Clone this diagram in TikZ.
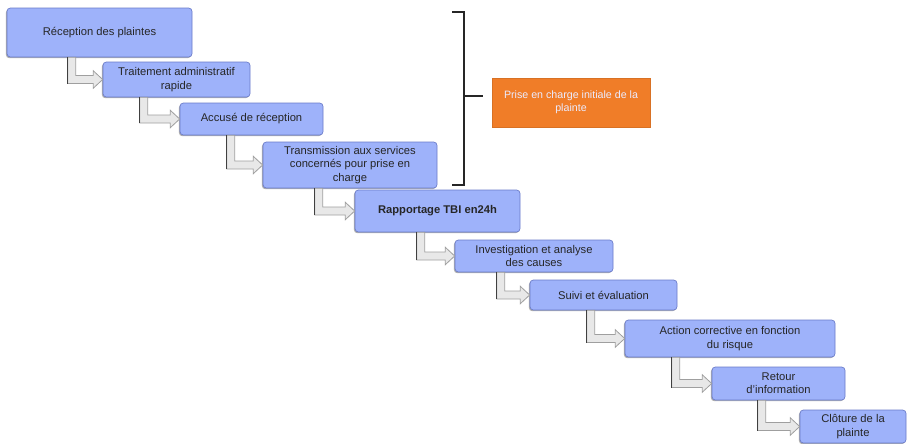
\documentclass[tikz,border=0pt]{standalone}
\usepackage{fontspec}
\setmainfont{Liberation Sans}
\usetikzlibrary{calc,shadows}
\definecolor{boxblue}{RGB}{158,178,250}
\definecolor{boxedge}{RGB}{105,122,200}
\definecolor{orangebox}{RGB}{240,125,40}
\tikzset{
  stepbox/.style={draw=boxedge, line width=0.5pt, fill=boxblue, rounded corners=2.5pt,
    align=center, inner sep=0.5pt, font=\fontsize{8.4}{10}\selectfont, text=black!85,
    drop shadow={shadow xshift=-0.8pt, shadow yshift=-0.9pt, opacity=0.45, fill=black!70}},
  notebox/.style={fill=orangebox, draw=orangebox!90!black, line width=0.4pt, align=center,
    inner sep=0.5pt, font=\fontsize{8}{10}\selectfont, text=white!92!blue},
  bentarrow/.style={fill=gray!18, draw=gray!75, line width=0.6pt, line join=miter},
  bentedge/.style={draw=black!75, line width=1.2pt},
  bracket/.style={draw=black!85, line width=0.9pt}
}
\newcommand\bentarr[3]{%
  \path let \p1=($(#1.south west)+(#3,0)$), \p2=(#2.west) in
    [bentarrow] (\x1-3pt,\y1) -- (\x1+3pt,\y1) -- (\x1+3pt,\y2+3pt) -- (\x2-7pt,\y2+3pt)
      -- (\x2-7pt,\y2+6.5pt) -- (\x2,\y2) -- (\x2-7pt,\y2-6.5pt) -- (\x2-7pt,\y2-3pt)
      -- (\x1-3pt,\y2-3pt) -- cycle;
  \path let \p1=($(#1.south west)+(#3,0)$), \p2=(#2.west) in
    [bentedge] (\x1-3pt,\y1) -- (\x1-3pt,\y2-3pt);
}
\begin{document}
\begin{tikzpicture}[x=0.75pt,y=-0.75pt]
\useasboundingbox (0,0) rectangle (909,443);

\node[stepbox, minimum width=138.75pt, minimum height=36.75pt] (b1) at (99.5,32.5) {Réception des plaintes};
\node[stepbox, minimum width=110.25pt, minimum height=26.25pt] (b2) at (176.5,79.5) {Traitement administratif\\rapide};
\node[stepbox, minimum width=107.25pt, minimum height=24pt] (b3) at (251.5,119) {Accusé de réception};
\node[stepbox, minimum width=130.5pt, minimum height=34.5pt] (b4) at (350,165) {Transmission aux services\\concernés pour prise en\\charge};
\node[stepbox, minimum width=123.75pt, minimum height=31.5pt, font=\fontsize{8.4}{10}\selectfont\bfseries] (b5) at (437.5,211) {Rapportage TBI en24h};
\node[stepbox, minimum width=118.5pt, minimum height=24pt] (b6) at (534,256) {Investigation et analyse\\des causes};
\node[stepbox, minimum width=110.25pt, minimum height=22.5pt] (b7) at (603.5,295) {Suivi et évaluation};
\node[stepbox, minimum width=157.5pt, minimum height=27.75pt] (b8) at (730,338.5) {Action corrective en fonction\\du risque};
\node[stepbox, minimum width=99.75pt, minimum height=24.75pt] (b9) at (778.5,383.5) {Retour\\d'information};
\node[stepbox, minimum width=79.5pt, minimum height=24.75pt] (b10) at (853,426.5) {Clôture de la\\plainte};

\node[notebox, minimum width=118.5pt, minimum height=36.75pt] (note) at (571,102.5) {Prise en charge initiale de la\\plainte};

\bentarr{b1}{b2}{65}
\bentarr{b2}{b3}{41}
\bentarr{b3}{b4}{51}
\bentarr{b4}{b5}{56}
\bentarr{b5}{b6}{66}
\bentarr{b6}{b7}{46}
\bentarr{b7}{b8}{61}
\bentarr{b8}{b9}{51}
\bentarr{b9}{b10}{50}

\coordinate (brtop) at (452,12);
\coordinate (brbot) at (452,185);
\coordinate (brmid) at (483,96);
\draw[bracket] (brtop) -- (464,12) -- (464,185) -- (brbot);
\draw[bracket] (464,96) -- (brmid);
\end{tikzpicture}
\end{document}
